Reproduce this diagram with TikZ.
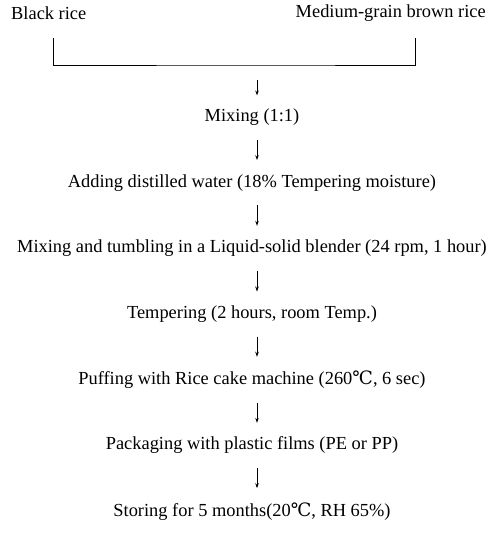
\documentclass[tikz,border=0pt]{standalone}
\usepackage{fontspec}
\setmainfont{Liberation Serif}
\newfontfamily\symfont{DejaVu Serif}
\usetikzlibrary{
    arrows.meta,
    positioning,
    calc
}

\begin{document}
\begin{tikzpicture}[
    x=1pt, y=-1pt,
    >={Stealth[length=5pt,width=3.5pt]},
    font=\fontsize{18.4}{21}\selectfont,
    stage/.style={inner sep=1pt, anchor=center},
    arrow/.style={->, line width=0.8pt, shorten <=13pt, shorten >=13pt},
    bracket/.style={line width=0.8pt}
]

\useasboundingbox (0,0) rectangle (491,535);

\def\dy{65.7}
\def\xc{252}

% ============================================================
% RAW MATERIALS
% ============================================================

\node[stage, anchor=west] (black) at (10,13) {Black rice};
\node[stage, anchor=east] (brown) at (487,13) {Medium-grain brown rice};

\coordinate (bl) at (53,38);
\coordinate (br) at (415,38);
\coordinate (join) at (257,65);

\draw[bracket] (bl) |- (join) -| (br);

% ============================================================
% PROCESS STEPS
% ============================================================

\node[stage] (s1) at (\xc,117) {Mixing (1:1)};
\node[stage] (s2) at (\xc,{117+1*\dy}) {Adding distilled water (18\% Tempering moisture)};
\node[stage] (s3) at (\xc,{117+2*\dy}) {Mixing and tumbling in a Liquid-solid blender (24 rpm, 1 hour)};
\node[stage] (s4) at (\xc,{117+3*\dy}) {Tempering (2 hours, room Temp.)};
\node[stage] (s5) at (\xc,{117+4*\dy}) {Puffing with Rice cake machine (260{\symfont ℃}, 6 sec)};
\node[stage] (s6) at (\xc,{117+5*\dy}) {Packaging with plastic films (PE or PP)};
\node[stage] (s7) at (\xc,{117+6*\dy}) {Storing for 5 months(20{\symfont ℃}, RH 65\%)};

\draw[->, line width=0.8pt, shorten <=15pt, shorten >=12pt] (join) -- (join |- s1.north);

\foreach \i [evaluate=\i as \j using int(\i+1)] in {1,...,6} {
    \draw[arrow] ([xshift=5pt]s\i.south) -- ([xshift=5pt]s\j.north);
}

\end{tikzpicture}
\end{document}
